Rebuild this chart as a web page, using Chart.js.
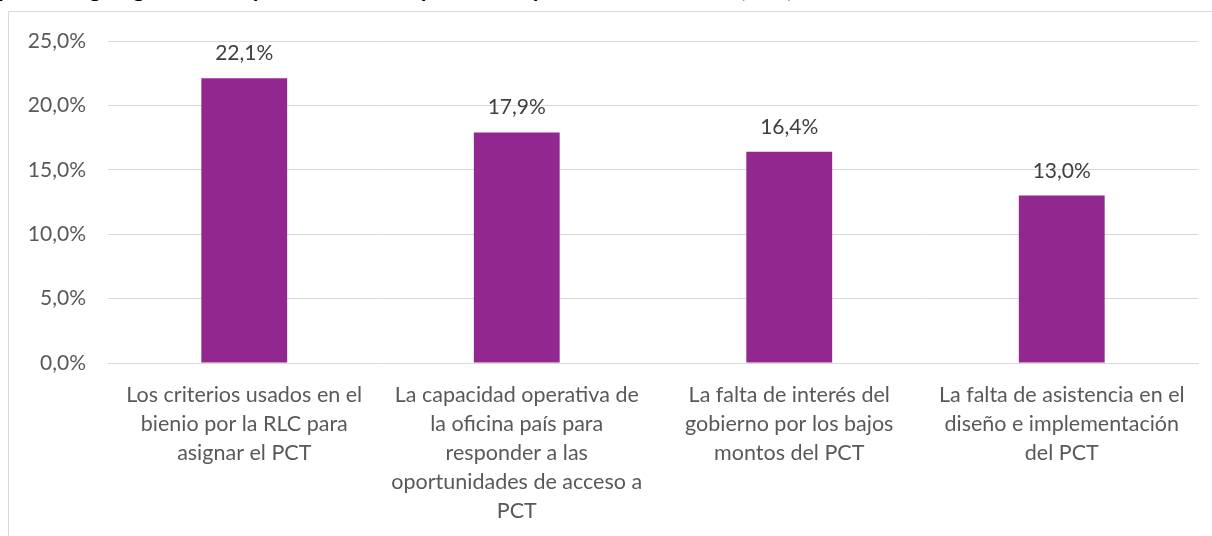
<!DOCTYPE html>
<html>
<head>
<meta charset="utf-8">
<script src="https://cdn.jsdelivr.net/npm/chart.js@4.4.1/dist/chart.umd.min.js"></script>
<style>
  html, body { margin: 0; padding: 0; background: #ffffff; overflow: hidden; }
  body { width: 1212px; height: 536px; position: relative; }
  #title { position: absolute; left: -2px; top: -26px; font-family: Lato, "Liberation Sans", sans-serif; font-weight: 700; font-size: 23px; color: #000; white-space: nowrap; line-height: 28px; }
  #frame { position: absolute; left: 8px; top: 11px; width: 1220px; height: 540px; border: 1px solid #d9d9d9; box-sizing: border-box; }
  #wrap { position: absolute; left: 0; top: 0; width: 1212px; height: 536px; }
</style>
</head>
<body>
<div id="title">países según grado de importancia de los problemas para acceder al PCT (RLC)</div>
<div id="frame"></div>
<div id="wrap"><canvas id="c" width="1212" height="536"></canvas></div>
<script>
const categories = [
  ["Los criterios usados en el", "bienio por la RLC para", "asignar el PCT"],
  ["La capacidad operativa de", "la oficina país para", "responder a las", "oportunidades de acceso a", "PCT"],
  ["La falta de interés del", "gobierno por los bajos", "montos del PCT"],
  ["La falta de asistencia en el", "diseño e implementación", "del PCT"]
];
const values = [22.1, 17.9, 16.4, 13.0];
const yTicks = [0, 5, 10, 15, 20, 25];

const fmt = v => v.toFixed(1).replace('.', ',') + '%';
const FONT = 'Lato, "Liberation Sans", sans-serif';

const barLabels = {
  id: 'barLabels',
  afterDatasetsDraw(chart) {
    const ctx = chart.ctx;
    const meta = chart.getDatasetMeta(0);
    ctx.save();
    ctx.font = '21px ' + FONT;
    ctx.fillStyle = '#404040';
    ctx.textAlign = 'center';
    ctx.textBaseline = 'alphabetic';
    meta.data.forEach((bar, i) => {
      ctx.fillText(fmt(values[i]), bar.x, bar.y - 18);
    });
    ctx.restore();
  }
};

new Chart(document.getElementById('c'), {
  type: 'bar',
  data: {
    labels: categories,
    datasets: [{
      data: values,
      backgroundColor: '#92278F',
      borderWidth: 0,
      barPercentage: 0.63,
      categoryPercentage: 0.5
    }]
  },
  options: {
    responsive: false,
    animation: false,
    layout: { padding: { left: 0, right: 14, top: 41, bottom: 0 } },
    plugins: { legend: { display: false }, tooltip: { enabled: false } },
    scales: {
      x: {
        grid: { display: false, drawTicks: false },
        border: { display: true, color: '#d9d9d9', width: 1 },
        ticks: {
          color: '#595959',
          font: { family: FONT, size: 21.5, lineHeight: 29 / 21.5 },
          padding: 18,
          maxRotation: 0,
          autoSkip: false
        },
        afterFit(scale) { scale.height = 173; }
      },
      y: {
        min: 0,
        max: 25,
        afterBuildTicks(scale) { scale.ticks = yTicks.map(v => ({ value: v })); },
        grid: { color: '#d9d9d9', lineWidth: 1, drawTicks: false },
        border: { display: false },
        ticks: {
          color: '#595959',
          font: { family: FONT, size: 21 },
          padding: 22,
          callback: v => fmt(v)
        },
        afterFit(scale) { scale.width = 108; }
      }
    }
  },
  plugins: [barLabels]
});
</script>
</body>
</html>
